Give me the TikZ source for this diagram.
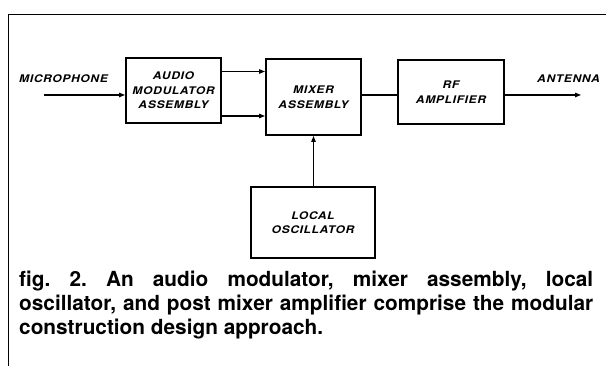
\documentclass[tikz,border=0pt]{standalone}
\usepackage{fontspec}
\setmainfont{TeX Gyre Heros}
\newfontfamily\boxfont[FakeStretch=1.15,LetterSpace=6]{TeX Gyre Heros}
\usetikzlibrary{arrows.meta}
\begin{document}
\begin{tikzpicture}[x=1pt,y=1pt,
    block/.style={draw,line width=2pt,align=center,inner sep=0pt,
      font=\boxfont\fontsize{10.5}{14.5}\selectfont\bfseries\itshape},
    sig/.style={line width=1.2pt,-{Triangle[length=6pt,width=4.5pt]}},
    lbl/.style={font=\boxfont\fontsize{10.5}{12}\selectfont\bfseries\itshape,inner sep=0pt}]
    \useasboundingbox (0,0) rectangle (606,366);
    % frame
    \draw[line width=1pt] (8,0) -- (8,351) -- (606,351);
    % blocks
    \node[block,minimum width=95pt,minimum height=65pt] (audio) at (173.5,275.5)
      {AUDIO\\MODULATOR\\ASSEMBLY};
    \node[block,minimum width=95pt,minimum height=76pt] (mixer) at (313.5,269)
      {MIXER\\ASSEMBLY};
    \node[block,minimum width=106pt,minimum height=64pt] (rf) at (451,274)
      {RF\\AMPLIFIER};
    \node[block,minimum width=124pt,minimum height=71pt] (osc) at (313,143.5)
      {LOCAL\\OSCILLATOR};
    % free ends
    \coordinate (mic) at (44,271);
    \coordinate (ant) at (581,271);
    \node[lbl,anchor=west] (micl) at (19,287) {MICROPHONE};
    \node[lbl,anchor=west] (antl) at (537,287) {ANTENNA};
    % connectors
    \draw[sig] (mic) -- (audio.west |- mic);
    \draw[sig] (audio.east |- 0,294.5) -- (mixer.west |- 0,294.5);
    \draw[sig] (audio.east |- 0,250) -- (mixer.west |- 0,250);
    \draw[line width=1.2pt] (mixer.east |- 0,271) -- (rf.west |- 0,271);
    \draw[sig] (rf.east |- ant) -- (ant);
    \draw[sig] (osc.north -| mixer.south) -- (mixer.south);
    % caption
    \node[anchor=north west,text width=574pt,align=justify,inner sep=0pt,
      font=\fontsize{20.8}{24}\selectfont\bfseries\frenchspacing] (cap) at (19,95)
      {fig. 2. An audio modulator, mixer assembly, local\linebreak
       oscillator, and post mixer amplifier comprise the modular\linebreak
       construction design approach.};
\end{tikzpicture}
\end{document}
